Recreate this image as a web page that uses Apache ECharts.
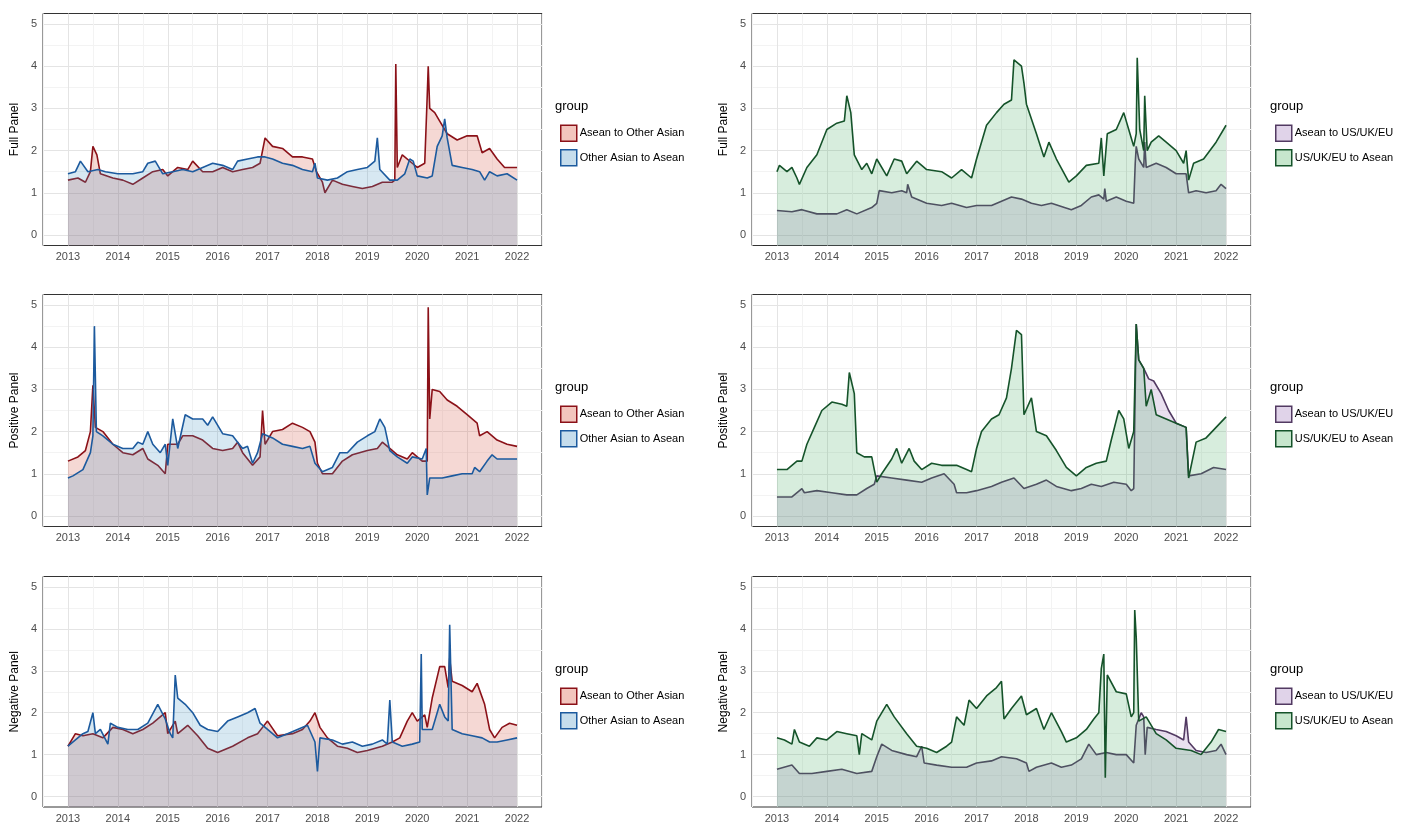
<!DOCTYPE html>
<html><head><meta charset="utf-8">
<script src="https://cdn.jsdelivr.net/npm/echarts@6/dist/echarts.min.js"></script>
<style>html,body{margin:0;padding:0;background:#fff}#c{width:1404px;height:824px}</style>
</head><body><div id="c"></div>
<script>
const panelNames = ['Full Panel','Positive Panel','Negative Panel'];
const leftNames = ['Asean to Other Asian','Other Asian to Asean'];
const rightNames = ['Asean to US/UK/EU','US/UK/EU to Asean'];
const yearTicks = [2013,2014,2015,2016,2017,2018,2019,2020,2021,2022];

// Full panel, left
const fullAseanToOther = [[2013.0,1.3],[2013.2,1.35],[2013.35,1.25],[2013.45,1.5],[2013.5,2.1],[2013.58,1.9],[2013.65,1.45],[2013.9,1.35],[2014.1,1.3],[2014.3,1.2],[2014.5,1.35],[2014.7,1.5],[2014.9,1.55],[2015.0,1.4],[2015.2,1.6],[2015.4,1.55],[2015.5,1.75],[2015.7,1.5],[2015.9,1.5],[2016.1,1.6],[2016.3,1.5],[2016.5,1.55],[2016.7,1.6],[2016.85,1.7],[2016.95,2.3],[2017.1,2.1],[2017.3,2.05],[2017.5,1.85],[2017.7,1.85],[2017.9,1.8],[2017.98,1.5],[2018.1,1.25],[2018.15,1.0],[2018.3,1.3],[2018.5,1.2],[2018.7,1.15],[2018.9,1.1],[2019.1,1.15],[2019.3,1.25],[2019.5,1.25],[2019.55,1.3],[2019.57,4.05],[2019.6,1.6],[2019.7,1.9],[2019.9,1.7],[2020.0,1.6],[2020.15,1.7],[2020.2,3.3],[2020.22,4.0],[2020.25,3.0],[2020.35,2.9],[2020.45,2.7],[2020.6,2.4],[2020.8,2.25],[2021.0,2.35],[2021.2,2.35],[2021.3,1.95],[2021.45,2.05],[2021.6,1.8],[2021.75,1.6],[2022.0,1.6]];
const fullOtherToAsean = [[2013.0,1.45],[2013.15,1.5],[2013.25,1.75],[2013.4,1.5],[2013.6,1.55],[2013.75,1.5],[2014.0,1.45],[2014.3,1.45],[2014.5,1.5],[2014.6,1.7],[2014.75,1.75],[2014.9,1.45],[2015.1,1.5],[2015.3,1.55],[2015.5,1.5],[2015.7,1.6],[2015.9,1.7],[2016.1,1.65],[2016.3,1.55],[2016.4,1.75],[2016.6,1.8],[2016.8,1.85],[2016.95,1.85],[2017.1,1.8],[2017.3,1.7],[2017.5,1.65],[2017.7,1.55],[2017.9,1.5],[2017.95,1.7],[2018.0,1.35],[2018.2,1.3],[2018.4,1.35],[2018.6,1.5],[2018.8,1.55],[2019.0,1.6],[2019.15,1.75],[2019.2,2.3],[2019.25,1.55],[2019.45,1.3],[2019.6,1.3],[2019.75,1.45],[2019.85,1.8],[2019.92,1.75],[2020.0,1.4],[2020.2,1.35],[2020.3,1.4],[2020.4,2.1],[2020.5,2.35],[2020.55,2.75],[2020.6,2.3],[2020.7,1.65],[2020.9,1.6],[2021.1,1.55],[2021.25,1.5],[2021.35,1.3],[2021.45,1.5],[2021.6,1.4],[2021.8,1.45],[2022.0,1.3]];
// Full panel, right
const fullAseanToWest = [[2013.0,0.58],[2013.3,0.55],[2013.5,0.6],[2013.8,0.5],[2014.2,0.5],[2014.4,0.6],[2014.6,0.5],[2014.9,0.65],[2015.0,0.75],[2015.05,1.05],[2015.3,1.0],[2015.5,1.05],[2015.6,1.0],[2015.62,1.2],[2015.7,0.9],[2016.0,0.75],[2016.3,0.7],[2016.5,0.75],[2016.8,0.65],[2017.0,0.7],[2017.3,0.7],[2017.5,0.8],[2017.7,0.9],[2017.9,0.85],[2018.1,0.75],[2018.3,0.7],[2018.5,0.75],[2018.9,0.6],[2019.1,0.7],[2019.3,0.9],[2019.45,0.95],[2019.55,0.85],[2019.57,1.1],[2019.6,0.8],[2019.8,0.9],[2020.0,0.8],[2020.15,0.75],[2020.18,1.7],[2020.2,2.1],[2020.25,1.8],[2020.35,1.6],[2020.37,2.2],[2020.4,1.6],[2020.6,1.7],[2020.8,1.6],[2021.0,1.45],[2021.2,1.45],[2021.25,1.0],[2021.4,1.05],[2021.6,1.0],[2021.8,1.05],[2021.9,1.2],[2022.0,1.1]];
const fullWestToAsean = [[2013.0,1.5],[2013.05,1.65],[2013.2,1.5],[2013.3,1.6],[2013.4,1.35],[2013.45,1.2],[2013.6,1.6],[2013.8,1.9],[2014.0,2.5],[2014.2,2.65],[2014.35,2.7],[2014.4,3.3],[2014.48,2.9],[2014.55,1.9],[2014.7,1.55],[2014.8,1.7],[2014.9,1.45],[2015.0,1.8],[2015.2,1.4],[2015.35,1.8],[2015.5,1.75],[2015.6,1.45],[2015.8,1.75],[2016.0,1.55],[2016.3,1.5],[2016.5,1.35],[2016.7,1.55],[2016.9,1.35],[2017.0,1.8],[2017.2,2.6],[2017.4,2.9],[2017.55,3.1],[2017.7,3.2],[2017.75,4.15],[2017.9,4.0],[2017.95,3.6],[2018.0,3.1],[2018.2,2.4],[2018.35,1.85],[2018.45,2.2],[2018.6,1.8],[2018.85,1.25],[2019.0,1.4],[2019.2,1.65],[2019.45,1.7],[2019.5,2.3],[2019.55,1.4],[2019.62,2.4],[2019.8,2.5],[2019.95,2.9],[2020.1,2.3],[2020.15,2.1],[2020.2,2.4],[2020.22,4.2],[2020.27,2.5],[2020.35,2.0],[2020.37,3.3],[2020.42,2.0],[2020.5,2.2],[2020.65,2.35],[2020.8,2.2],[2021.0,2.0],[2021.15,1.7],[2021.2,2.0],[2021.25,1.3],[2021.35,1.7],[2021.55,1.8],[2021.8,2.2],[2022.0,2.6]];
// Positive panel, left
const posAseanToOther = [[2013.0,1.3],[2013.2,1.4],[2013.35,1.55],[2013.45,2.0],[2013.5,3.1],[2013.55,2.1],[2013.7,2.0],[2013.9,1.7],[2014.1,1.5],[2014.3,1.45],[2014.5,1.6],[2014.6,1.35],[2014.8,1.2],[2014.95,1.0],[2015.0,1.7],[2015.2,1.7],[2015.3,1.9],[2015.5,1.9],[2015.7,1.8],[2015.9,1.6],[2016.1,1.55],[2016.3,1.6],[2016.4,1.75],[2016.5,1.5],[2016.7,1.2],[2016.85,1.4],[2016.9,2.5],[2016.95,1.7],[2017.1,2.0],[2017.3,2.05],[2017.5,2.2],[2017.7,2.1],[2017.85,2.0],[2017.95,1.75],[2018.0,1.25],[2018.1,1.0],[2018.3,1.0],[2018.5,1.3],[2018.7,1.45],[2019.0,1.55],[2019.2,1.6],[2019.3,1.75],[2019.45,1.6],[2019.6,1.45],[2019.8,1.35],[2019.9,1.5],[2020.1,1.3],[2020.2,1.3],[2020.22,4.95],[2020.25,2.3],[2020.3,3.0],[2020.45,2.95],[2020.6,2.75],[2020.8,2.6],[2021.0,2.4],[2021.2,2.2],[2021.25,1.9],[2021.4,2.0],[2021.6,1.8],[2021.8,1.7],[2022.0,1.65]];
const posOtherToAsean = [[2013.0,0.9],[2013.1,0.95],[2013.3,1.1],[2013.45,1.5],[2013.5,1.9],[2013.53,4.5],[2013.57,2.0],[2013.7,1.9],[2013.9,1.7],[2014.1,1.6],[2014.3,1.6],[2014.4,1.75],[2014.5,1.7],[2014.6,2.0],[2014.7,1.7],[2014.85,1.5],[2014.95,1.7],[2015.0,1.2],[2015.1,2.3],[2015.2,1.6],[2015.35,2.4],[2015.5,2.3],[2015.7,2.3],[2015.8,2.15],[2015.9,2.35],[2016.1,1.95],[2016.3,1.9],[2016.4,1.75],[2016.5,1.6],[2016.6,1.65],[2016.7,1.25],[2016.8,1.5],[2016.9,1.95],[2017.1,1.85],[2017.3,1.7],[2017.5,1.65],[2017.7,1.6],[2017.85,1.65],[2017.95,1.25],[2018.1,1.05],[2018.3,1.15],[2018.45,1.5],[2018.6,1.5],[2018.8,1.75],[2019.0,1.9],[2019.15,2.0],[2019.25,2.3],[2019.35,2.1],[2019.45,1.55],[2019.6,1.4],[2019.8,1.25],[2019.9,1.4],[2020.1,1.35],[2020.18,1.6],[2020.2,0.5],[2020.25,0.9],[2020.5,0.9],[2020.7,0.95],[2020.9,1.0],[2021.1,1.0],[2021.15,1.15],[2021.25,1.05],[2021.4,1.3],[2021.5,1.45],[2021.6,1.35],[2021.8,1.35],[2022.0,1.35]];
// Positive panel, right
const posAseanToWest = [[2013.0,0.45],[2013.3,0.45],[2013.5,0.65],[2013.55,0.55],[2013.8,0.6],[2014.1,0.55],[2014.4,0.5],[2014.6,0.5],[2014.8,0.65],[2014.95,0.75],[2015.0,0.95],[2015.3,0.9],[2015.6,0.85],[2015.9,0.8],[2016.1,0.9],[2016.35,1.0],[2016.55,0.75],[2016.6,0.55],[2016.8,0.55],[2017.0,0.6],[2017.3,0.7],[2017.5,0.8],[2017.75,0.9],[2017.95,0.65],[2018.2,0.75],[2018.4,0.85],[2018.6,0.7],[2018.9,0.6],[2019.1,0.65],[2019.3,0.75],[2019.5,0.7],[2019.75,0.8],[2020.0,0.75],[2020.1,0.6],[2020.15,0.65],[2020.2,4.55],[2020.25,3.7],[2020.35,3.5],[2020.45,3.25],[2020.55,3.2],[2020.7,2.9],[2020.85,2.5],[2021.0,2.2],[2021.2,2.1],[2021.25,0.95],[2021.5,1.0],[2021.75,1.15],[2022.0,1.1]];
const posWestToAsean = [[2013.0,1.1],[2013.2,1.1],[2013.4,1.3],[2013.5,1.3],[2013.6,1.7],[2013.75,2.1],[2013.9,2.5],[2014.1,2.7],[2014.3,2.65],[2014.4,2.6],[2014.45,3.4],[2014.55,2.9],[2014.6,1.5],[2014.75,1.4],[2014.9,1.4],[2015.0,0.8],[2015.1,1.0],[2015.3,1.35],[2015.4,1.6],[2015.5,1.25],[2015.65,1.6],[2015.75,1.3],[2015.9,1.1],[2016.1,1.25],[2016.3,1.2],[2016.6,1.2],[2016.8,1.1],[2016.9,1.05],[2017.0,1.6],[2017.1,2.0],[2017.3,2.3],[2017.45,2.4],[2017.6,2.8],[2017.7,3.5],[2017.8,4.4],[2017.9,4.3],[2017.95,2.4],[2018.1,2.8],[2018.2,2.0],[2018.4,1.9],[2018.6,1.55],[2018.8,1.15],[2019.0,0.95],[2019.2,1.15],[2019.4,1.25],[2019.6,1.3],[2019.7,1.8],[2019.85,2.5],[2019.95,2.3],[2020.05,1.6],[2020.15,2.0],[2020.2,4.55],[2020.25,3.7],[2020.35,3.5],[2020.4,2.6],[2020.5,3.0],[2020.6,2.4],[2020.8,2.3],[2021.0,2.2],[2021.2,2.1],[2021.25,0.9],[2021.4,1.75],[2021.6,1.85],[2021.8,2.1],[2022.0,2.35]];
// Negative panel, left
const negAseanToOther = [[2013.0,1.2],[2013.15,1.5],[2013.3,1.45],[2013.5,1.5],[2013.7,1.4],[2013.9,1.65],[2014.1,1.6],[2014.3,1.5],[2014.5,1.6],[2014.7,1.75],[2014.95,2.0],[2015.0,1.5],[2015.15,1.8],[2015.2,1.5],[2015.4,1.7],[2015.6,1.45],[2015.8,1.15],[2016.0,1.05],[2016.3,1.2],[2016.6,1.4],[2016.8,1.5],[2016.9,1.65],[2017.0,1.8],[2017.2,1.45],[2017.5,1.5],[2017.7,1.6],[2017.85,1.8],[2017.95,2.0],[2018.05,1.65],[2018.2,1.4],[2018.4,1.2],[2018.6,1.15],[2018.8,1.05],[2019.0,1.1],[2019.3,1.2],[2019.5,1.3],[2019.65,1.4],[2019.8,1.8],[2019.9,2.0],[2020.0,1.8],[2020.15,1.95],[2020.2,1.65],[2020.3,2.35],[2020.45,3.1],[2020.55,3.1],[2020.62,2.6],[2020.65,3.3],[2020.7,2.75],[2020.9,2.65],[2021.1,2.5],[2021.2,2.7],[2021.35,2.2],[2021.45,1.6],[2021.55,1.4],[2021.7,1.65],[2021.85,1.75],[2022.0,1.7]];
const negOtherToAsean = [[2013.0,1.2],[2013.15,1.35],[2013.3,1.5],[2013.4,1.55],[2013.5,2.0],[2013.55,1.5],[2013.65,1.6],[2013.8,1.25],[2013.85,1.75],[2014.0,1.65],[2014.2,1.6],[2014.4,1.6],[2014.6,1.75],[2014.8,2.2],[2014.95,1.85],[2015.05,1.5],[2015.1,1.4],[2015.15,2.9],[2015.2,2.35],[2015.35,2.2],[2015.5,2.0],[2015.65,1.7],[2015.8,1.6],[2016.0,1.55],[2016.2,1.8],[2016.4,1.9],[2016.6,2.0],[2016.75,2.1],[2016.85,1.75],[2017.0,1.6],[2017.2,1.4],[2017.4,1.5],[2017.6,1.6],[2017.8,1.7],[2017.95,1.3],[2018.0,0.6],[2018.05,1.4],[2018.3,1.35],[2018.5,1.25],[2018.7,1.3],[2018.9,1.2],[2019.1,1.25],[2019.3,1.35],[2019.4,1.25],[2019.45,2.3],[2019.5,1.3],[2019.7,1.2],[2019.9,1.25],[2020.05,1.3],[2020.08,3.4],[2020.1,1.6],[2020.3,1.6],[2020.45,2.2],[2020.55,1.9],[2020.62,1.8],[2020.65,4.1],[2020.7,1.6],[2020.9,1.5],[2021.1,1.45],[2021.3,1.4],[2021.45,1.3],[2021.6,1.3],[2021.8,1.35],[2022.0,1.4]];
// Negative panel, right
const negAseanToWest = [[2013.0,0.65],[2013.3,0.75],[2013.45,0.55],[2013.7,0.55],[2014.0,0.6],[2014.3,0.65],[2014.6,0.55],[2014.9,0.6],[2015.0,0.95],[2015.1,1.25],[2015.3,1.1],[2015.6,1.0],[2015.8,0.95],[2015.9,1.2],[2015.95,0.8],[2016.2,0.75],[2016.5,0.7],[2016.8,0.7],[2017.0,0.8],[2017.3,0.85],[2017.5,0.95],[2017.8,0.9],[2018.0,0.8],[2018.05,0.6],[2018.2,0.7],[2018.5,0.8],[2018.7,0.7],[2018.9,0.75],[2019.1,0.9],[2019.25,1.25],[2019.4,1.0],[2019.6,1.05],[2019.8,1.0],[2020.0,1.0],[2020.15,0.8],[2020.2,1.7],[2020.3,2.0],[2020.35,1.9],[2020.38,1.0],[2020.42,1.65],[2020.6,1.6],[2020.8,1.55],[2021.0,1.45],[2021.15,1.35],[2021.2,1.9],[2021.25,1.3],[2021.4,1.1],[2021.6,1.05],[2021.8,1.1],[2021.9,1.25],[2022.0,1.0]];
const negWestToAsean = [[2013.0,1.4],[2013.15,1.35],[2013.3,1.25],[2013.35,1.6],[2013.45,1.3],[2013.65,1.2],[2013.8,1.4],[2014.0,1.35],[2014.2,1.55],[2014.4,1.5],[2014.6,1.45],[2014.65,1.0],[2014.7,1.5],[2014.9,1.35],[2015.0,1.8],[2015.2,2.2],[2015.35,1.9],[2015.6,1.5],[2015.8,1.2],[2016.0,1.15],[2016.2,1.05],[2016.4,1.2],[2016.5,1.3],[2016.6,1.9],[2016.75,1.7],[2016.85,2.3],[2017.0,2.1],[2017.2,2.4],[2017.4,2.6],[2017.5,2.75],[2017.55,1.85],[2017.7,2.1],[2017.9,2.4],[2018.0,1.95],[2018.2,2.1],[2018.35,1.6],[2018.5,2.0],[2018.7,1.55],[2018.8,1.3],[2019.0,1.4],[2019.2,1.6],[2019.35,1.85],[2019.45,2.0],[2019.5,3.05],[2019.55,3.4],[2019.58,0.45],[2019.62,2.9],[2019.8,2.5],[2020.0,2.45],[2020.1,1.9],[2020.15,2.0],[2020.17,4.45],[2020.2,3.8],[2020.25,1.8],[2020.4,1.9],[2020.6,1.5],[2020.8,1.35],[2021.0,1.15],[2021.3,1.1],[2021.5,1.0],[2021.7,1.3],[2021.85,1.6],[2022.0,1.55]];

const panels = [
  [fullAseanToOther, fullOtherToAsean, fullAseanToWest, fullWestToAsean],
  [posAseanToOther, posOtherToAsean, posAseanToWest, posWestToAsean],
  [negAseanToOther, negOtherToAsean, negAseanToWest, negWestToAsean]
];

const styles = {
  'Asean to Other Asian': {line:'#8b1118', fill:'rgba(214,96,77,0.35)', legendFill:'#f2c5bd'},
  'Other Asian to Asean': {line:'#1c5a9e', fill:'rgba(67,147,195,0.3)', legendFill:'#c6ddec'},
  'Asean to US/UK/EU': {line:'#523a62', fill:'rgba(150,110,180,0.3)', legendFill:'#e0d3e9'},
  'US/UK/EU to Asean': {line:'#15532a', fill:'rgba(65,171,93,0.3)', legendFill:'#c7e6cd'}
};

const tops = [13.5, 294.5, 576.5];
const lefts = [43, 752];
const grids = [], xAxes = [], yAxes = [], series = [], legends = [], graphics = [];
let gi = 0;
for (let r = 0; r < 3; r++) {
  for (let c = 0; c < 2; c++) {
    grids.push({left: lefts[c], top: tops[r], width: 499, height: 232, show: true, borderColor: '#333', borderWidth: 1, backgroundColor: '#fff'});
    xAxes.push({type: 'value', gridIndex: gi, min: 2012.5, max: 2022.5, interval: 0.5,
      axisLine: {show: false}, axisTick: {show: false},
      axisLabel: {interval: 0, fontSize: 11, color: '#4d4d4d', fontFamily: 'Arial, Liberation Sans', margin: 6,
        formatter: v => (Math.abs(v - Math.round(v)) < 1e-6 && yearTicks.includes(Math.round(v))) ? String(Math.round(v)) : ''},
      splitLine: {show: true, lineStyle: {color: ['#f3f3f3', '#e4e4e4'], width: 1}}});
    yAxes.push({type: 'value', gridIndex: gi, min: -0.25, max: 5.25, interval: 0.25,
      name: c === 0 || true ? panelNames[r] : '', nameLocation: 'middle', nameGap: 22, nameRotate: 90,
      nameTextStyle: {fontSize: 12, color: '#000', fontFamily: 'Arial, Liberation Sans'},
      axisLine: {show: false}, axisTick: {show: false},
      axisLabel: {fontSize: 11, color: '#4d4d4d', fontFamily: 'Arial, Liberation Sans', margin: 6,
        formatter: v => Math.abs(v - Math.round(v)) < 1e-6 && v >= 0 ? String(Math.round(v)) : ''},
      splitLine: {show: true, lineStyle: {color: ['transparent', '#e4e4e4', 'transparent', '#f3f3f3'], width: 1}}});
    const names = c === 0 ? leftNames : rightNames;
    const dataPair = c === 0 ? [panels[r][0], panels[r][1]] : [panels[r][2], panels[r][3]];
    names.forEach((nm, k) => {
      const st = styles[nm];
      series.push({name: nm, type: 'line', xAxisIndex: gi, yAxisIndex: gi, data: dataPair[k],
        showSymbol: false, symbol: 'none', lineStyle: {color: st.line, width: 1.6}, itemStyle: {color: st.line},
        areaStyle: {color: st.fill, origin: 'start'}, z: 2 + k, animation: false});
    });
    const lx = c === 0 ? 555 : 1270;
    graphics.push({type: 'text', left: lx, top: tops[r] + 86, style: {text: 'group', fontSize: 13, fill: '#000', fontFamily: 'Arial, Liberation Sans'}});
    legends.push({left: lx, top: tops[r] + 106, orient: 'vertical', itemWidth: 16, itemHeight: 16, itemGap: 7,
      icon: 'rect', textStyle: {fontSize: 11, color: '#000', fontFamily: 'Arial, Liberation Sans', padding: [0, 0, 0, -2]},
      selectedMode: false,
      data: names.map(nm => ({name: nm, itemStyle: {color: styles[nm].legendFill, borderColor: styles[nm].line, borderWidth: 1.5}}))});
    gi++;
  }
}
const chart = echarts.init(document.getElementById('c'));
chart.setOption({animation: false, grid: grids, xAxis: xAxes, yAxis: yAxes, series: series, legend: legends, graphic: graphics});
</script></body></html>
